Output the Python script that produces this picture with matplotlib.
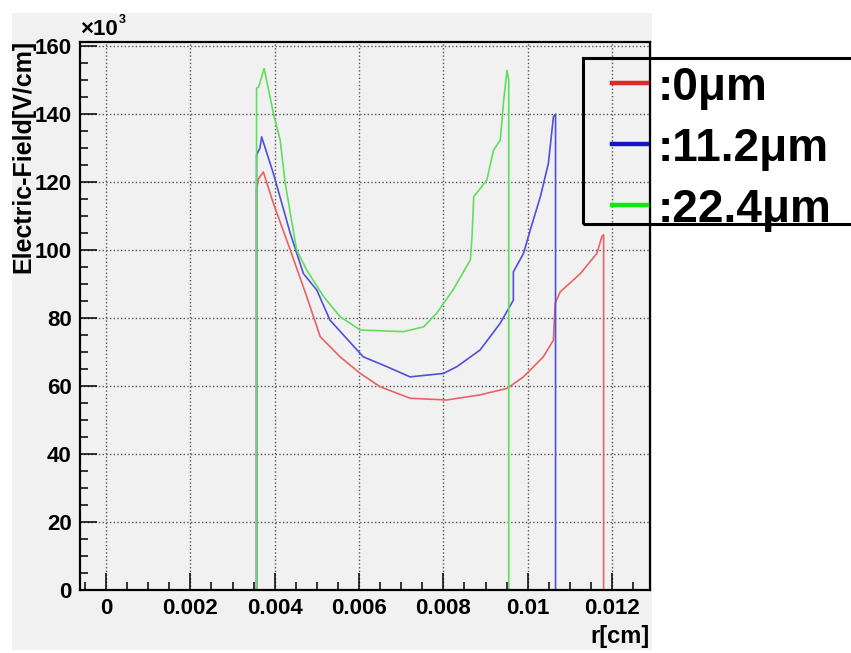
import matplotlib
matplotlib.use('Agg')
import matplotlib.pyplot as plt
from matplotlib.patches import Rectangle
from matplotlib.lines import Line2D
from matplotlib.ticker import MultipleLocator, FuncFormatter

plt.rcParams['font.family'] = ['Liberation Sans', 'DejaVu Sans']
plt.rcParams['font.weight'] = 'bold'

# r in cm, field in units of 1e3 V/cm
r_0 = [0, 0.00357, 0.00357, 0.00362, 0.00373, 0.00397, 0.00437, 0.00476, 0.00508,
       0.00555, 0.00603, 0.0065, 0.00721, 0.00808, 0.00887, 0.00951, 0.0099,
       0.01037, 0.01061, 0.01065, 0.01077, 0.01125, 0.01164, 0.01176, 0.0118,
       0.0118, 0.0128]
e_0 = [0, 0, 118, 121, 123, 113.7, 100, 86.3, 74.5,
       68.6, 63.7, 59.8, 56.4, 55.9, 57.4, 59.3, 62.7,
       68.6, 73.5, 84.3, 87.7, 93.1, 99, 104, 104.5,
       0, 0]

r_11 = [0, 0.00357, 0.00357, 0.00365, 0.00369, 0.00397, 0.00437, 0.00468, 0.005,
        0.00531, 0.0061, 0.00666, 0.00721, 0.008, 0.00832, 0.00887, 0.00935,
        0.00966, 0.00966, 0.0099, 0.01006, 0.0103, 0.01049, 0.01061, 0.01066,
        0.01066, 0.0128]
e_11 = [0, 0, 128, 130, 133.3, 122.5, 104.9, 93.1, 88.2,
        79.4, 68.6, 65.7, 62.7, 63.7, 65.7, 70.6, 78.5,
        85.3, 93.6, 99, 105.9, 115.7, 125.5, 139.2, 140,
        0, 0]

r_22 = [0, 0.00357, 0.00357, 0.00362, 0.00375, 0.00397, 0.00413, 0.00425, 0.00452,
        0.00476, 0.00516, 0.00555, 0.00603, 0.00705, 0.00753, 0.00784, 0.00824,
        0.00864, 0.00868, 0.00872, 0.00903, 0.00919, 0.00935, 0.00943, 0.00951,
        0.00955, 0.00955, 0.0128]
e_22 = [0, 0, 147.6, 148, 153.4, 140.2, 132.4, 119.6, 100,
        94.1, 86.3, 80.4, 76.5, 76, 77.4, 81.4, 88.5,
        97.1, 104, 115.7, 120.6, 129.4, 132.4, 144.1, 152.9,
        150, 0, 0]

labels = [':0\u03bcm', ':11.2\u03bcm', ':22.4\u03bcm']
line_colors = ['#e86464', '#5050dc', '#5ee05e']
legend_colors = ['#e02828', '#1414c8', '#14e614']

W, H = 851, 653
bg = '#f1f1f1'

fig = plt.figure(figsize=(W / 100, H / 100), dpi=100, facecolor='white')
fig.patches.append(Rectangle((12 / W, 3 / H), 640 / W, 637 / H,
                             transform=fig.transFigure, facecolor=bg,
                             edgecolor='none', zorder=-5))

ax = fig.add_axes([80 / W, 63 / H, 570 / W, 548.3 / H])
ax.set_facecolor(bg)

for r, e, c in zip([r_0, r_11, r_22], [e_0, e_11, e_22], line_colors):
    ax.plot(r, e, color=c, lw=1.2)

ax.set_xlim(-0.000617, 0.0129)
ax.set_ylim(0, 161.3)
ax.xaxis.set_major_locator(MultipleLocator(0.002))
ax.xaxis.set_minor_locator(MultipleLocator(0.0005))
ax.yaxis.set_major_locator(MultipleLocator(20))
ax.yaxis.set_minor_locator(MultipleLocator(5))
ax.xaxis.set_major_formatter(FuncFormatter(lambda v, p: '%g' % round(v, 4)))
ax.tick_params(which='major', direction='in', length=12, width=1.1,
               labelsize=16, pad=6)
ax.tick_params(which='minor', direction='in', length=6, width=1.1)
for lab in ax.get_xticklabels() + ax.get_yticklabels():
    lab.set_fontweight('bold')
ax.grid(True, which='major', color='#555555', linestyle=':', lw=1.0)
for s in ax.spines.values():
    s.set_linewidth(1.6)

fig.text(23 / W, 1 - 40 / H, 'Electric-Field[V/cm]', rotation=90,
         ha='center', va='top', fontsize=18, fontweight='bold')
fig.text(80 / W, 1 - 35 / H, '\u00d710', ha='left', va='baseline',
         fontsize=16, fontweight='bold')
fig.text(119 / W, 1 - 23 / H, '3', ha='left', va='baseline',
         fontsize=9, fontweight='bold')
fig.text(650 / W, 1 - 643 / H, 'r[cm]', ha='right', va='baseline',
         fontsize=17, fontweight='bold')

# legend box, running off the right edge like the original
fig.patches.append(Rectangle((583 / W, 1 - 224 / H), 300 / W, 166 / H,
                             transform=fig.transFigure, facecolor='none',
                             edgecolor='black', lw=2.2, zorder=5))
for i, (lab, c) in enumerate(zip(labels, legend_colors)):
    y = 1 - (83 + 61 * i) / H
    fig.lines.append(Line2D([612 / W, 647 / W], [y, y], transform=fig.transFigure,
                            color=c, lw=3.2))
    fig.text(658 / W, y, lab, ha='left', va='center_baseline', fontsize=33,
             fontweight='bold')

fig.savefig('out.png', dpi=100)
